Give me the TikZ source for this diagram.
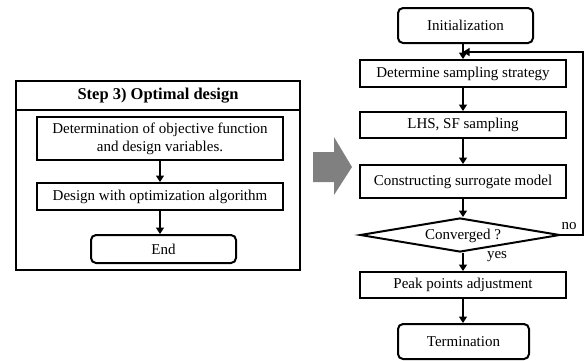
\documentclass[tikz,border=0pt]{standalone}
\usepackage{fontspec}
\setmainfont{Liberation Serif}
\usetikzlibrary{arrows.meta,shapes.geometric}
\definecolor{arrowgray}{RGB}{128,128,128}
\begin{document}
\begin{tikzpicture}[x=1pt,y=-1pt,
  box/.style={draw,line width=2pt,minimum width=246pt,minimum height=27pt,inner sep=0pt,font=\fontsize{15}{18}\selectfont,align=center},
  rbox/.style={draw,line width=2pt,rounded corners=5pt,inner sep=0pt,font=\fontsize{15}{18}\selectfont},
  arr/.style={line width=1.5pt,-{Triangle[width=8pt,length=6.5pt]}},
  lbl/.style={font=\fontsize{15}{18}\selectfont,inner sep=0pt}]
\useasboundingbox (0,0) rectangle (587,360);
% left panel
\node[draw,line width=2pt,minimum width=284pt,minimum height=189pt,inner sep=0pt] (panel) at (158,175.5) {};
\node[lbl,font=\fontsize{16.5}{18}\selectfont\bfseries] (head) at (158,96) {Step 3) Optimal design};
\draw[line width=2pt] (panel.west |- 0,110) coordinate (hl) -- (panel.east |- 0,110) coordinate (hr);
\node[box,minimum height=43pt] (obj) at (160,138.5) {Determination of objective function\\and design variables.};
\node[box] (alg) at (160,196.5) {Design with optimization algorithm};
\node[rbox,minimum width=145pt,minimum height=28pt] (end) at (163.5,249) {End};
\draw[arr] (obj.south -| 160,0) -- (alg.north -| 160,0);
\draw[arr] (alg.south -| 160,0) -- (end.north -| 160,0);
% gray arrow
\fill[arrowgray] (313,152) -- (334,152) -- (334,137) -- (352,167) -- (334,195) -- (334,182) -- (313,182) -- cycle;
% right flow
\node[rbox,minimum width=135pt,minimum height=35pt] (init) at (465.5,25.5) {Initialization};
\node[box,minimum width=206pt] (det) at (463,73.5) {Determine sampling strategy};
\node[box,minimum width=206pt,minimum height=26pt] (lhs) at (463,125) {LHS, SF sampling};
\node[box,minimum width=206pt,minimum height=33pt] (sur) at (463,181.5) {Constructing surrogate model};
\node[diamond,draw,line width=2pt,aspect=5.9,minimum width=200pt,minimum height=34pt,inner sep=0pt] (conv) at (460,235) {};
\node[lbl] (convt) at (463,236) {Converged ?};
\node[box,minimum width=206pt,minimum height=26pt] (peak) at (463,285) {Peak points adjustment};
\node[rbox,minimum width=131pt,minimum height=35pt] (term) at (463.5,341.5) {Termination};
\draw[arr] (init.south -| 463,0) -- (det.north -| 463,0);
\draw[arr] (det.south -| 463,0) -- (lhs.north -| 463,0);
\draw[arr] (lhs.south -| 463,0) -- (sur.north -| 463,0);
\draw[arr] (sur.south -| 463,0) -- (conv.north -| 463,0);
\draw[arr] (conv.south -| 463,0) -- (peak.north -| 463,0);
\draw[arr] (peak.south -| 463,0) -- (term.north -| 463,0);
\coordinate (fb) at (463,52);
\draw[arr] (conv.east) -- (583,235) -- (583,52) -- (fb);
\node[lbl] (no) at (569,226) {no};
\node[lbl] (yes) at (497,257) {yes};
\end{tikzpicture}
\end{document}
